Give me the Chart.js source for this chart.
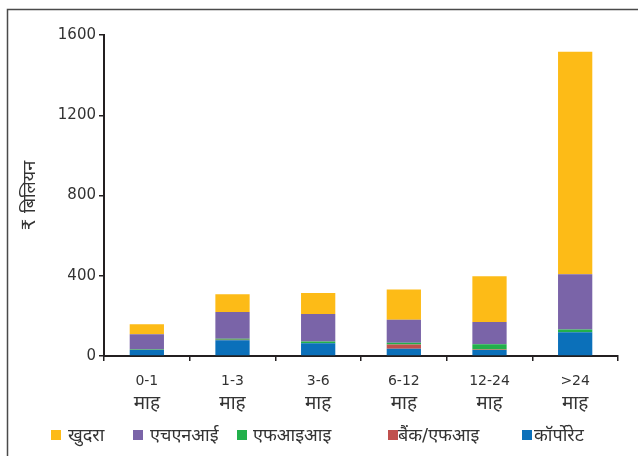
<!DOCTYPE html>
<html>
<head>
<meta charset="utf-8">
<script src="https://cdn.jsdelivr.net/npm/chart.js@4.4.1/dist/chart.umd.min.js"></script>
<style>
  html, body { margin: 0; padding: 0; background: #ffffff; }
  #wrap { position: relative; width: 638px; height: 456px; }
</style>
</head>
<body>
<div id="wrap"><canvas id="c" width="638" height="456"></canvas></div>
<script>
// Residual maturity buckets and holdings (₹ billion) by investor type
const categories = [["0-1", "माह"], ["1-3", "माह"], ["3-6", "माह"], ["6-12", "माह"], ["12-24", "माह"], [">24", "माह"]];
const corporate = [30, 78, 64, 36, 30, 119];
const bankFi    = [0, 3, 0, 21, 2, 0];
const fii       = [2, 5, 8, 9, 26, 13];
const hni       = [76, 133, 137, 115, 111, 275];
const retail    = [50, 89, 105, 151, 229, 1109];
const yTicks    = [0, 400, 800, 1200, 1600];

const FONT = "'DejaVu Sans', 'Noto Sans', sans-serif";
const TEXT = '#333333';
const AXIS = '#231f20';

// Legend layout: square x and label x for each entry (top of stack first)
const LEGEND_POS = [[51, 68], [133, 150], [237, 253], [388, 398], [522, 534]];
const LEGEND_Y = 436;
// Second line of each category label (the unit), drawn below the range
const UNIT_Y = 404;

const datasets = [
  { label: 'कॉर्पोरेट', data: corporate, backgroundColor: '#0b70ba' },
  { label: 'बैंक/एफआइ', data: bankFi, backgroundColor: '#c0504d' },
  { label: 'एफआइआइ', data: fii, backgroundColor: '#22b04b' },
  { label: 'एचएनआई', data: hni, backgroundColor: '#7a64a8' },
  { label: 'खुदरा', data: retail, backgroundColor: '#fdbb17' }
].map(d => Object.assign(d, {
  barPercentage: 0.4,
  categoryPercentage: 1.0,
  borderWidth: 0
}));

// Outer frame (top and left edges), unit line under the x labels, and the legend row
const framePlugin = {
  id: 'frameAndLegend',
  afterDraw(chart) {
    const ctx = chart.ctx;
    ctx.save();
    ctx.strokeStyle = '#4a4a4a';
    ctx.lineWidth = 1.5;
    ctx.beginPath();
    ctx.moveTo(7.5, 456);
    ctx.lineTo(7.5, 9.5);
    ctx.lineTo(638, 9.5);
    ctx.stroke();

    const xs = chart.scales.x;
    ctx.font = '19px ' + FONT;
    ctx.fillStyle = TEXT;
    ctx.textAlign = 'center';
    ctx.textBaseline = 'middle';
    chart.data.labels.forEach((lab, i) => {
      ctx.fillText(lab[1], xs.getPixelForTick(i), UNIT_Y);
    });

    const items = chart.data.datasets.slice().reverse();
    ctx.font = '18px ' + FONT;
    ctx.textAlign = 'left';
    items.forEach((ds, i) => {
      const [sx, tx] = LEGEND_POS[i];
      ctx.fillStyle = ds.backgroundColor;
      ctx.fillRect(sx, LEGEND_Y - 6, 10, 10);
      ctx.fillStyle = TEXT;
      ctx.fillText(ds.label, tx, LEGEND_Y);
    });
    ctx.restore();
  }
};

new Chart(document.getElementById('c'), {
  type: 'bar',
  data: { labels: categories, datasets },
  options: {
    responsive: false,
    animation: false,
    layout: { padding: { left: 0, right: 20, top: 35, bottom: 0 } },
    plugins: { legend: { display: false }, tooltip: { enabled: false } },
    scales: {
      x: {
        stacked: true,
        offset: true,
        border: { display: true, color: AXIS, width: 2 },
        grid: { display: true, drawOnChartArea: false, drawTicks: true, tickLength: 5, color: AXIS, lineWidth: 1.5, offset: true },
        ticks: {
          color: TEXT,
          font: { family: FONT, size: 14 },
          padding: 12,
          maxRotation: 0,
          callback(v, i) { return categories[i][0]; }
        },
        afterFit(scale) { scale.height = 100; }
      },
      y: {
        stacked: true,
        min: 0,
        max: 1600,
        afterBuildTicks(scale) { scale.ticks = yTicks.map(v => ({ value: v })); },
        border: { display: true, color: AXIS, width: 2 },
        grid: { display: true, drawOnChartArea: false, drawTicks: true, tickLength: 5, color: AXIS, lineWidth: 1.5 },
        ticks: { color: TEXT, font: { family: FONT, size: 15 }, padding: 3, callback: v => String(v) },
        title: { display: true, text: '₹ बिलियन', color: TEXT, font: { family: FONT, size: 18 }, padding: { top: 20, bottom: 4 } },
        afterFit(scale) { scale.width = 104; }
      }
    }
  },
  plugins: [framePlugin]
});
</script>
</body>
</html>
